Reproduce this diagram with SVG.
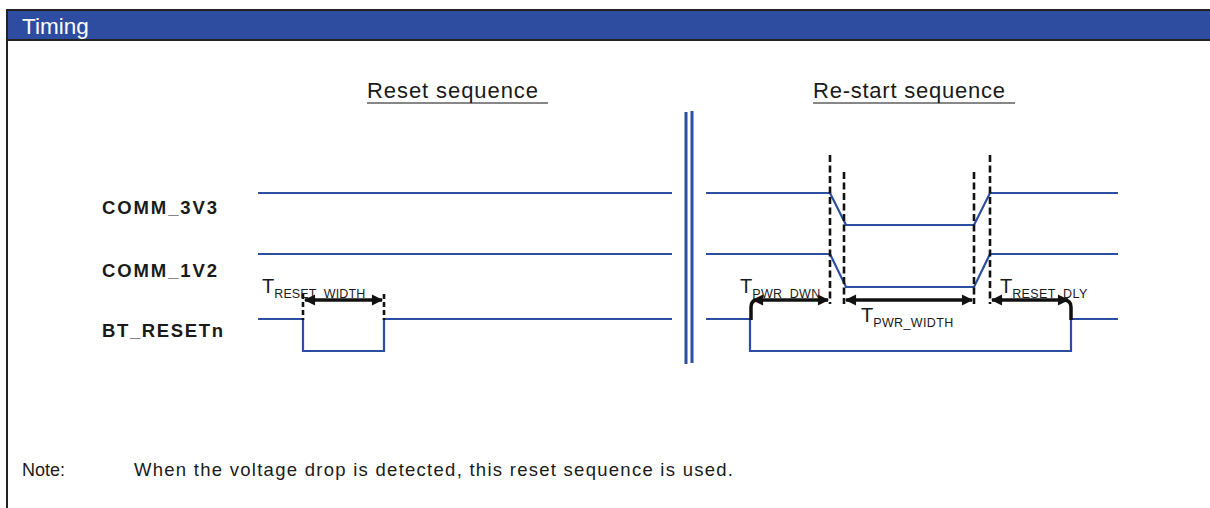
<svg xmlns="http://www.w3.org/2000/svg" width="1210" height="508" viewBox="0 0 1210 508">
<defs>
<style>
.sig{fill:none;stroke:#2B4EA0;stroke-width:2.2;stroke-linejoin:miter}
.dash{fill:none;stroke:#111;stroke-width:2.6;stroke-dasharray:7,3.5}
.tick{fill:none;stroke:#111;stroke-width:2.6;stroke-dasharray:5,3}
.arr{fill:none;stroke:#111;stroke-width:3.5;marker-start:url(#ah);marker-end:url(#ah)}
.lbl{font-family:"Liberation Sans",Arial,sans-serif;font-weight:bold;font-size:18.5px;fill:#1a1a1a}
.txt{font-family:"Liberation Sans",Arial,sans-serif;fill:#1a1a1a}
.t{font-size:20px}
.sub{font-size:12.5px}
</style>
<marker id="ah" viewBox="0 0 10 10" refX="9" refY="5" markerWidth="4" markerHeight="3.2" orient="auto-start-reverse" markerUnits="strokeWidth">
<path d="M0,0 L10,5 L0,10 Z" fill="#111"/>
</marker>
</defs>
<rect width="1210" height="508" fill="#fff"/>
<g id="frame">
<rect x="7" y="10" width="1203" height="30" fill="#2E4DA0"/>
<line x1="6" y1="10" x2="1210" y2="10" stroke="#222" stroke-width="2"/>
<line x1="6" y1="40" x2="1210" y2="40" stroke="#222" stroke-width="2"/>
<line x1="7" y1="9" x2="7" y2="508" stroke="#222" stroke-width="2"/>
<text x="22" y="34" font-family="'Liberation Sans',Arial,sans-serif" font-size="22.5" fill="#fff">Timing</text>
</g>
<g id="titles">
<text class="txt" x="367" y="98" font-size="22" textLength="171">Reset sequence</text>
<line x1="367" y1="103" x2="548" y2="103" stroke="#111" stroke-width="1.2"/>
<text class="txt" x="813" y="98" font-size="22" textLength="192">Re-start sequence</text>
<line x1="813" y1="103" x2="1015" y2="103" stroke="#111" stroke-width="1.2"/>
</g>
<g id="labels">
<text class="lbl" x="102" y="214" textLength="115">COMM_3V3</text>
<text class="lbl" x="102" y="277" textLength="115">COMM_1V2</text>
<text class="lbl" x="102" y="337" textLength="121">BT_RESETn</text>
</g>
<g id="separator">
<line x1="686" y1="112" x2="686" y2="364" stroke="#2B4EA0" stroke-width="3"/>
<line x1="692" y1="111" x2="692" y2="363" stroke="#2B4EA0" stroke-width="3"/>
</g>
<g id="connectors">
<polyline class="sig" points="258,193 672,193"/>
<polyline class="sig" points="258,254 672,254"/>
<polyline class="sig" points="258,319 303,319 303,351 384,351 384,319 672,319"/>
<polyline class="sig" points="706,193 830,193 846,225 974,225 990,193 1118,193"/>
<polyline class="sig" points="706,254 830,254 846,287 974,287 990,254 1118,254"/>
<polyline class="sig" points="706,319 750,319 750,351 1071,351 1071,319 1118,319"/>
<line class="dash" x1="830" y1="155" x2="830" y2="304"/>
<line class="dash" x1="844" y1="172" x2="844" y2="304"/>
<line class="dash" x1="974" y1="172" x2="974" y2="304"/>
<line class="dash" x1="990" y1="155" x2="990" y2="304"/>
<line class="tick" x1="303" y1="294" x2="303" y2="320"/>
<line class="tick" x1="384" y1="294" x2="384" y2="320"/>
<path d="M758,300 Q751,300 751,307 L751,320" fill="none" stroke="#111" stroke-width="3.5"/>
<path d="M1063,300 Q1071,300 1071,307 L1071,320" fill="none" stroke="#111" stroke-width="3.5"/>
<line class="arr" x1="305" y1="300" x2="382" y2="300"/>
<line class="arr" x1="753" y1="300" x2="828" y2="300"/>
<line class="arr" x1="846" y1="300" x2="972" y2="300"/>
<line class="arr" x1="992" y1="300" x2="1068" y2="300"/>
</g>
<g id="timing-labels">
<text class="txt" x="262" y="293"><tspan class="t">T</tspan><tspan class="sub" dy="5" textLength="91">RESET_WIDTH</tspan></text>
<text class="txt" x="740" y="293"><tspan class="t">T</tspan><tspan class="sub" dy="5" textLength="68">PWR_DWN</tspan></text>
<text class="txt" x="861" y="322"><tspan class="t">T</tspan><tspan class="sub" dy="5" textLength="80">PWR_WIDTH</tspan></text>
<text class="txt" x="1000" y="293"><tspan class="t">T</tspan><tspan class="sub" dy="5" textLength="75">RESET_DLY</tspan></text>
</g>
<g id="note">
<text class="txt" x="22" y="476" font-size="18">Note:</text>
<text class="txt" x="134" y="476" font-size="18.5" textLength="599">When the voltage drop is detected, this reset sequence is used.</text>
</g>
</svg>
